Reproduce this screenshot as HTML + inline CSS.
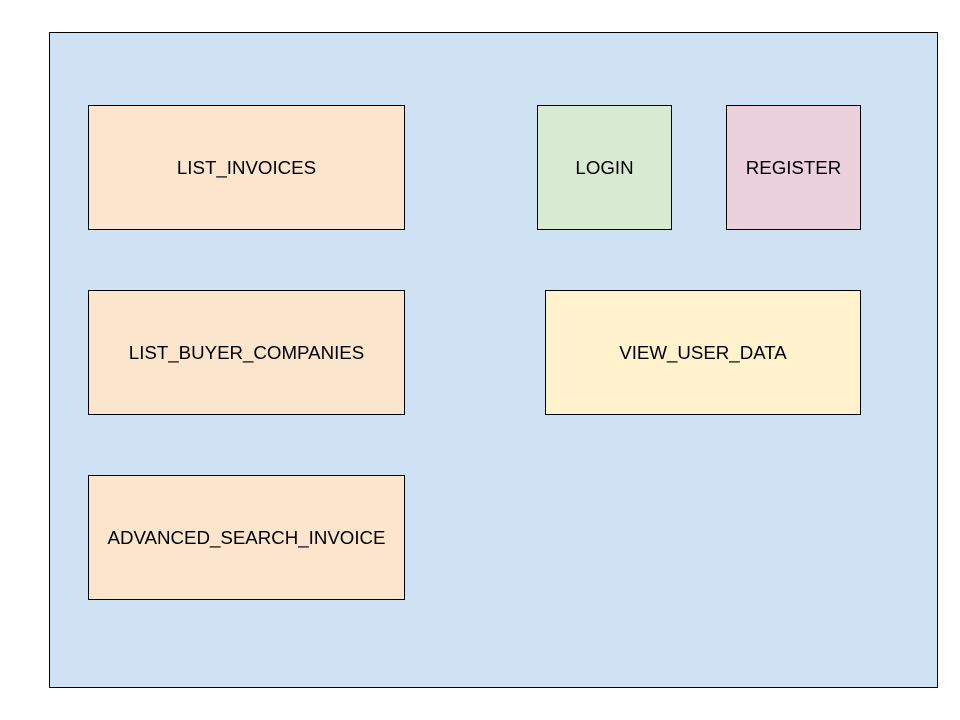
<!DOCTYPE html>
<html><head><style>
body{margin:0;width:960px;height:720px;background:#fff;position:relative;overflow:hidden;font-family:"Liberation Sans",Arial,sans-serif}
div.b{position:absolute;border:1px solid #000;box-sizing:border-box;display:flex;align-items:center;justify-content:center;font-size:18.7px;color:#000;padding-top:1px}
</style></head><body>
<div class="b" style="left:49px;top:32px;width:889px;height:656px;background:#cfe2f3"></div>
<div class="b" style="left:88px;top:105px;width:317px;height:125px;background:#fce5cd">LIST_INVOICES</div>
<div class="b" style="left:537px;top:105px;width:135px;height:125px;background:#d9ead3">LOGIN</div>
<div class="b" style="left:726px;top:105px;width:135px;height:125px;background:#ead1dc">REGISTER</div>
<div class="b" style="left:88px;top:290px;width:317px;height:125px;background:#fce5cd">LIST_BUYER_COMPANIES</div>
<div class="b" style="left:545px;top:290px;width:316px;height:125px;background:#fff2cc">VIEW_USER_DATA</div>
<div class="b" style="left:88px;top:475px;width:317px;height:125px;background:#fce5cd">ADVANCED_SEARCH_INVOICE</div>
</body></html>
